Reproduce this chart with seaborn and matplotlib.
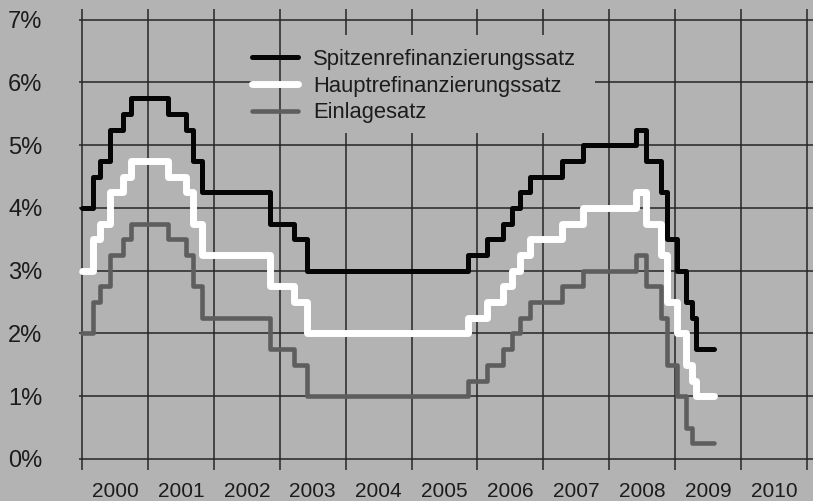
import matplotlib
matplotlib.use('Agg')
import pandas as pd
import matplotlib.pyplot as plt
import seaborn as sns
from matplotlib.patches import Rectangle

# ==========================================
# Leitzinsen der EZB (Stufen)
# ==========================================
jahre = [2000.00, 2000.17, 2000.28, 2000.43, 2000.62, 2000.75, 2001.30, 2001.58,
         2001.68, 2001.82, 2002.85, 2003.22, 2003.42, 2005.85, 2006.15, 2006.38,
         2006.52, 2006.64, 2006.80, 2007.28, 2007.60, 2008.40, 2008.56, 2008.78,
         2008.88, 2009.03, 2009.17, 2009.26, 2009.32, 2009.59]

spitzen = [4.0, 4.5, 4.75, 5.25, 5.5, 5.75, 5.5, 5.25, 4.75, 4.25, 3.75, 3.5, 3.0,
           3.25, 3.5, 3.75, 4.0, 4.25, 4.5, 4.75, 5.0, 5.25, 4.75, 4.25, 3.5, 3.0,
           2.5, 2.25, 1.75, 1.75]
haupt = [3.0, 3.5, 3.75, 4.25, 4.5, 4.75, 4.5, 4.25, 3.75, 3.25, 2.75, 2.5, 2.0,
         2.25, 2.5, 2.75, 3.0, 3.25, 3.5, 3.75, 4.0, 4.25, 3.75, 3.25, 2.5, 2.0,
         1.5, 1.25, 1.0, 1.0]
einlage = [2.0, 2.5, 2.75, 3.25, 3.5, 3.75, 3.5, 3.25, 2.75, 2.25, 1.75, 1.5, 1.0,
           1.25, 1.5, 1.75, 2.0, 2.25, 2.5, 2.75, 3.0, 3.25, 2.75, 2.25, 1.5, 1.0,
           0.5, 0.25, 0.25, 0.25]

namen = ['Spitzenrefinanzierungssatz', 'Hauptrefinanzierungssatz', 'Einlagesatz']
farben = ['#050505', '#ffffff', '#5e5e5e']
breiten = [3.6, 5.0, 3.3]

y_ticks = list(range(0, 8))
y_labels = [f'{v}%' for v in y_ticks]
x_grid = list(range(2000, 2012))
x_label_years = list(range(2000, 2011))

bg = '#b3b3b3'
sns.set_style('white', {'axes.facecolor': bg, 'figure.facecolor': bg})
plt.rcParams['font.family'] = ['Liberation Sans', 'DejaVu Sans']

fig = plt.figure(figsize=(8.13, 5.01), dpi=100)
ax = fig.add_axes([0.0968, 0.062, 0.9032, 0.920])
ax.set_axisbelow(True)

df = pd.DataFrame({'Jahr': jahre, namen[0]: spitzen, namen[1]: haupt, namen[2]: einlage})

for name, farbe, lw in zip(namen, farben, breiten):
    sns.lineplot(data=df, x='Jahr', y=name, ax=ax, color=farbe, linewidth=lw,
                 drawstyle='steps-post', label=name, zorder=3)

# opaque area behind the legend text (covers the grid like the original)
ax.add_patch(Rectangle((2003.25, 5.2), 4.54, 1.56, facecolor=bg,
                       edgecolor='none', zorder=1))

ax.set_xlim(1999.95, 2011.09)
ax.set_ylim(-0.175, 7.17)

ax.set_yticks(y_ticks)
ax.set_yticklabels(y_labels)
ax.set_xticks(x_grid)
ax.set_xticklabels([])
ax.set_xticks([y + 0.5 for y in x_label_years], minor=True)
ax.set_xticklabels([str(y) for y in x_label_years], minor=True)

ax.tick_params(axis='y', which='both', length=0, pad=26, labelsize=17, labelcolor='#1c1c1c')
ax.tick_params(axis='x', which='both', length=0, pad=9, labelsize=15, labelcolor='#1c1c1c')
ax.grid(which='major', color='#262626', linewidth=1.1)
ax.grid(which='minor', visible=False)
ax.set_xlabel('')
ax.set_ylabel('')
for s in ax.spines.values():
    s.set_visible(False)

ax.legend(loc='upper left', bbox_to_anchor=(252 / 813, 1 - 49 / 501),
          bbox_transform=fig.transFigure, frameon=False, fontsize=15.8,
          handlelength=2.1, handletextpad=0.68, labelspacing=0.26,
          borderpad=0, borderaxespad=0, labelcolor='#1c1c1c')

fig.savefig('out.png', dpi=100, facecolor=bg)
